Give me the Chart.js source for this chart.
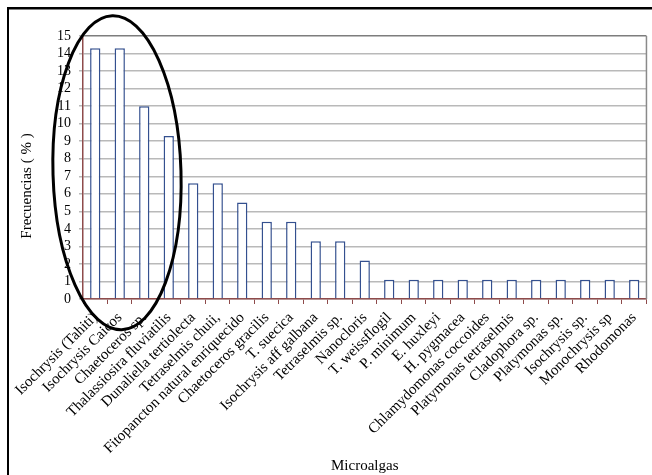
<!DOCTYPE html>
<html>
<head>
<meta charset="utf-8">
<script src="https://cdn.jsdelivr.net/npm/chart.js@4.4.1/dist/chart.umd.min.js"></script>
<style>
  html, body { margin: 0; padding: 0; background: #ffffff; }
  #wrap { width: 652px; height: 475px; position: relative; }
</style>
</head>
<body>
<div id="wrap"><canvas id="chart" width="652" height="475"></canvas></div>
<script>
// Microalgae species cited, and how often each one appears (%)
const categories = [
  "Isochrysis (Tahiti)", "Isochrysis Caicos", "Chaetoceros sp.", "Thalassiosira fluviatilis",
  "Dunaliella tertiolecta", "Tetraselmis chuii,", "Fitopancton natural enriquecido",
  "Chaetoceros gracilis", "T. suecica", "Isochrysis aff galbana", "Tetraselmis sp.",
  "Nanocloris", "T. weissflogil", "P. minimum", "E. huxleyi", "H. pygmacea",
  "Chlamydomonas coccoides", "Platymonas tetraselmis", "Cladophora sp.", "Platymonas sp.",
  "Isochrysis sp.", "Monochrysis sp", "Rhodomonas"
];
const frequencies = [
  14.3, 14.3, 11.0, 9.3, 6.6, 6.6, 5.5, 4.4, 4.4, 3.3, 3.3, 2.2,
  1.1, 1.1, 1.1, 1.1, 1.1, 1.1, 1.1, 1.1, 1.1, 1.1, 1.1
];
const yTicks = [0, 1, 2, 3, 4, 5, 6, 7, 8, 9, 10, 11, 12, 13, 14, 15];
const xTitle = "Microalgas";
const yTitle = "Frecuencias ( % )";

const SERIF = "'Liberation Serif', 'Times New Roman', serif";
const AXIS_BROWN = "#8e4b4b";
const GRID_GREY = "#b9b9b9";
const BAR_BLUE = "#34508f";

// Outer frame, right edge of the plot, vertical axis title and the highlight ellipse
const decorations = {
  id: "decorations",
  beforeDraw(chart) {
    const { ctx } = chart;
    ctx.save();
    ctx.fillStyle = "#ffffff";
    ctx.fillRect(0, 0, chart.width, chart.height);
    ctx.fillStyle = "#000000";
    ctx.fillRect(7, 7, chart.width - 7, 2.5);
    ctx.fillRect(7, 7, 2, chart.height - 7);
    ctx.restore();
  },
  afterDraw(chart) {
    const { ctx, chartArea, scales } = chart;
    ctx.save();
    // plot-area right edge
    ctx.strokeStyle = "#8a8a8a";
    ctx.lineWidth = 1.5;
    ctx.beginPath();
    ctx.moveTo(chartArea.right, chartArea.top);
    ctx.lineTo(chartArea.right, chartArea.bottom);
    ctx.stroke();

    // vertical axis title
    ctx.fillStyle = "#000000";
    ctx.font = "15px " + SERIF;
    ctx.textAlign = "center";
    ctx.textBaseline = "middle";
    ctx.translate(27, 186);
    ctx.rotate(-Math.PI / 2);
    ctx.fillText(yTitle, 0, 0);
    ctx.restore();

    // ellipse circling the most frequent species
    const x = scales.x, y = scales.y;
    const cx = (x.getPixelForValue(0) + x.getPixelForValue(3)) / 2 - 15;
    const cy = y.getPixelForValue(7.2);
    ctx.save();
    ctx.strokeStyle = "#000000";
    ctx.lineWidth = 3;
    ctx.beginPath();
    ctx.ellipse(cx, cy, 64, 157, -0.03, 0, Math.PI * 2);
    ctx.stroke();
    ctx.restore();
  }
};

new Chart(document.getElementById("chart"), {
  type: "bar",
  data: {
    labels: categories,
    datasets: [{
      data: frequencies,
      backgroundColor: "#ffffff",
      borderColor: BAR_BLUE,
      borderWidth: 1.5,
      borderSkipped: "bottom",
      categoryPercentage: 1,
      barPercentage: 0.42
    }]
  },
  options: {
    responsive: false,
    animation: false,
    devicePixelRatio: 1,
    layout: { padding: { top: 36, right: 3, left: 0, bottom: 0 } },
    plugins: {
      legend: { display: false },
      tooltip: { enabled: false }
    },
    scales: {
      x: {
        type: "category",
        offset: true,
        grid: {
          display: true,
          drawOnChartArea: false,
          drawTicks: true,
          tickLength: 5,
          tickColor: AXIS_BROWN,
          offset: true
        },
        border: { display: true, color: AXIS_BROWN, width: 1.5 },
        ticks: {
          autoSkip: false,
          minRotation: 45,
          maxRotation: 45,
          padding: 5,
          color: "#000000",
          font: { family: SERIF, size: 15 }
        },
        title: {
          display: true,
          text: xTitle,
          color: "#000000",
          font: { family: SERIF, size: 15 },
          padding: { top: 0, bottom: 0 }
        },
        afterFit(scale) { scale.height = 176; }
      },
      y: {
        min: 0,
        max: 15,
        afterBuildTicks(scale) { scale.ticks = yTicks.map(v => ({ value: v })); },
        grid: {
          color: (c) => (c.tick && c.tick.value === 15 ? "#7d7d7d" : GRID_GREY),
          lineWidth: 1.5,
          tickLength: 4,
          tickColor: GRID_GREY
        },
        border: { display: true, color: AXIS_BROWN, width: 1.5 },
        ticks: {
          autoSkip: false,
          padding: 8,
          color: "#000000",
          font: { family: SERIF, size: 14 }
        },
        afterFit(scale) { scale.width = 83; }
      }
    }
  },
  plugins: [decorations]
});
</script>
</body>
</html>
